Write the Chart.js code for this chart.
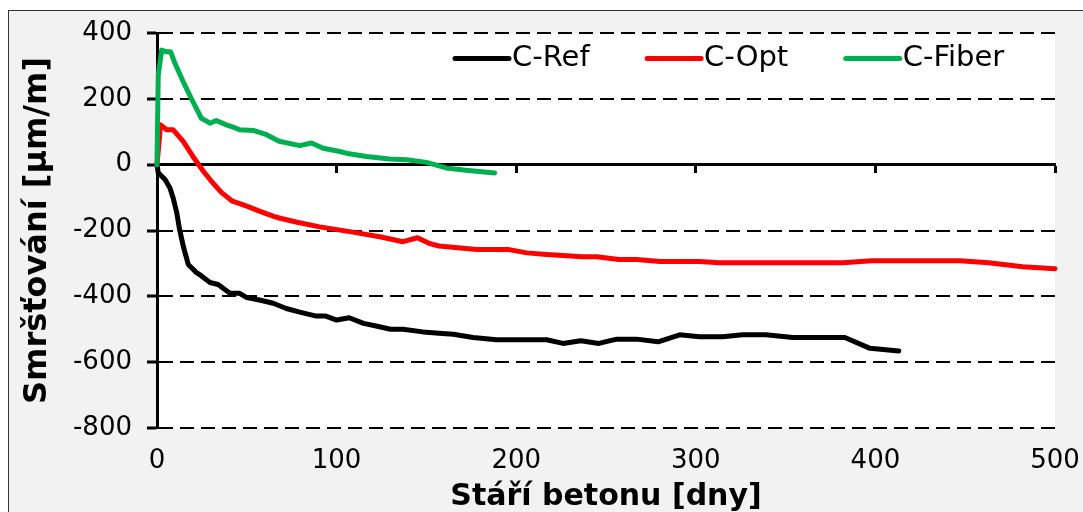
<!DOCTYPE html>
<html lang="cs">
<head>
<meta charset="UTF-8">
<title>Smršťování betonu</title>
<script src="https://cdn.jsdelivr.net/npm/chart.js@4"></script>
<style>
  html, body { margin: 0; padding: 0; background: #fff; overflow: hidden; }
  #frame { position: absolute; left: 8px; top: 10px; width: 1100px; height: 520px;
           background: #f2f2f2; border-top: 1px solid #333; border-left: 1px solid #333; }
  #c { position: absolute; left: 0; top: 0; }
</style>
</head>
<body>
<div id="frame"></div>
<canvas id="c" width="1083" height="512"></canvas>
<script>
// C-Ref (black)
const refDays = [0, 0.7, 4.5, 7.2, 9, 11, 12.4, 14.6, 17.4, 22, 24.8, 29.5, 34, 40.6, 46, 50, 57, 64.7, 72, 79.5, 88.7, 94, 100, 107, 115, 122, 130, 137, 148, 157, 165, 176, 189, 217, 226, 236, 246, 256, 267, 279, 291, 302, 315, 326, 339, 354, 383, 397, 413];
const refVals = [0, -25, -45, -71, -101, -146, -192, -247, -303, -328, -338, -358, -364, -391, -391, -404, -411, -421, -437, -448, -460, -460, -472, -465, -482, -490, -500, -500, -508, -512, -515, -525, -532, -532, -543, -535, -543, -530, -530, -538, -517, -523, -523, -517, -517, -525, -525, -558, -566];

// C-Opt (red)
const optDays = [0, 2, 5.4, 9, 14.6, 20, 25.8, 31, 36, 42, 50, 57, 65, 68, 78, 90.6, 109, 124, 137, 145, 152, 157, 178, 196, 206, 217, 237, 245, 257, 267, 280, 302, 313, 330, 382, 398, 447, 463, 482, 500];
const optVals = [0, 121, 106, 106, 71, 25, -20, -55, -85, -111, -126, -141, -157, -162, -175, -189, -205, -219, -234, -222, -240, -247, -258, -258, -268, -273, -280, -280, -288, -288, -294, -294, -298, -298, -298, -292, -292, -298, -310, -316];

// C-Fiber (green)
const fiberDays = [0, 0.7, 2.6, 5.4, 7.6, 10, 14.6, 19, 24.7, 29.5, 33, 38.6, 42.4, 46, 53.6, 61, 68, 79.5, 86, 92.5, 101.8, 107, 116.6, 129.6, 139, 150, 161, 172, 188];
const fiberVals = [0, 272, 348, 343, 343, 308, 252, 202, 141, 126, 134, 121, 114, 106, 104, 91, 71, 58, 66, 50, 40, 33, 25, 17, 15, 7, -10, -17, -25];

const seriesNames = ['C-Ref', 'C-Opt', 'C-Fiber'];
const seriesColors = ['#000000', '#ff0000', '#00b050'];

const xTitle = 'Stáří betonu [dny]';
const yTitle = 'Smršťování [µm/m]';

function pts(days, vals) {
    return days.map((d, i) => ({ x: d, y: vals[i] }));
}

Chart.defaults.font.family = '"DejaVu Sans", Verdana, sans-serif';
Chart.defaults.color = '#000';

// white plot area
const plotBg = {
    id: 'plotBg',
    beforeDraw(chart) {
        const a = chart.chartArea;
        const ctx = chart.ctx;
        ctx.save();
        ctx.fillStyle = '#fff';
        ctx.fillRect(a.left, a.top, a.right - a.left, a.bottom - a.top);
        ctx.restore();
    }
};

// legend drawn inside the plot, top right
const insideLegend = {
    id: 'insideLegend',
    afterDraw(chart) {
        const ctx = chart.ctx;
        let x = chart.chartArea.left + 298;
        const y = 58.5;
        ctx.save();
        ctx.font = '29px "DejaVu Sans"';
        ctx.textBaseline = 'middle';
        ctx.textAlign = 'left';
        chart.data.datasets.forEach(ds => {
            ctx.strokeStyle = ds.borderColor;
            ctx.lineWidth = 5;
            ctx.lineCap = 'round';
            ctx.beginPath();
            ctx.moveTo(x, y);
            ctx.lineTo(x + 54, y);
            ctx.stroke();
            ctx.fillStyle = '#000';
            ctx.fillText(ds.label, x + 57, y);
            x += 57 + ctx.measureText(ds.label).width + 57.5;
        });
        ctx.restore();
    }
};

// keep the plot box fixed, labels may hang over the edges
function noPad(s) {
    s.paddingLeft = 0;
    s.paddingRight = 0;
    s.paddingTop = 0;
    s.paddingBottom = 0;
}

const datasets = [
    pts(refDays, refVals),
    pts(optDays, optVals),
    pts(fiberDays, fiberVals)
].map((data, i) => ({
    label: seriesNames[i],
    data: data,
    borderColor: seriesColors[i],
    backgroundColor: seriesColors[i],
    borderWidth: 5,
    pointRadius: 0,
    tension: 0,
    borderJoinStyle: 'round',
    borderCapStyle: 'round',
    clip: 5,
    order: 3 - i,
    xAxisID: 'x',
    yAxisID: 'y'
}));

new Chart(document.getElementById('c'), {
    type: 'line',
    data: { datasets: datasets },
    options: {
        responsive: false,
        animation: false,
        layout: { padding: { top: 33, right: 28, left: 0, bottom: 0 } },
        plugins: {
            legend: { display: false },
            tooltip: { enabled: false }
        },
        scales: {
            x: {
                type: 'linear',
                position: 'bottom',
                min: 0,
                max: 500,
                ticks: { stepSize: 100, padding: 18, font: { size: 26 }, maxRotation: 0 },
                grid: { display: false, drawTicks: false },
                border: { display: false },
                title: {
                    display: true,
                    text: xTitle,
                    font: { size: 30, weight: 'bold', lineHeight: 1 },
                    padding: 0
                },
                afterFit(s) { s.height = 84; noPad(s); }
            },
            x0: {
                type: 'linear',
                position: { y: 0 },
                min: 0,
                max: 500,
                ticks: { display: false, stepSize: 100 },
                grid: { drawOnChartArea: false, drawTicks: true, tickLength: 7, tickWidth: 3, tickColor: '#000' },
                border: { color: '#000', width: 3 },
                afterFit(s) { noPad(s); }
            },
            y: {
                type: 'linear',
                min: -800,
                max: 400,
                ticks: { stepSize: 200, padding: 15, font: { size: 26 } },
                grid: {
                    color: c => (c.tick && c.tick.value === 0) ? 'rgba(0,0,0,0)' : '#000',
                    lineWidth: 2,
                    tickLength: 10,
                    tickWidth: 3,
                    tickColor: '#000'
                },
                border: { color: '#000', width: 3, dash: [14, 7] },
                title: {
                    display: true,
                    text: yTitle,
                    font: { size: 32, weight: 'bold' },
                    padding: { top: 18, bottom: 0 }
                },
                afterFit(s) { s.width = 157; noPad(s); }
            }
        }
    },
    plugins: [plotBg, insideLegend]
});
</script>
</body>
</html>
